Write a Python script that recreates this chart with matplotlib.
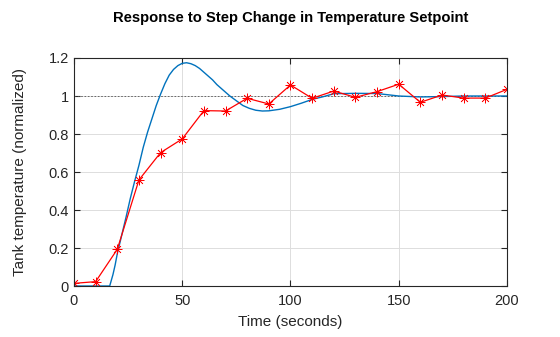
import matplotlib.pyplot as plt

plt.rcParams['font.family'] = ['Liberation Sans', 'DejaVu Sans']

# model response (blue curve)
model_t = [0, 16.5, 18, 19, 20, 22, 24, 26, 28, 30, 32, 34, 36, 38, 40, 42, 44, 46, 48,
           50, 52, 54, 56, 58, 60, 62, 64, 66, 68, 70, 72, 75, 78, 81, 84, 87, 90,
           95, 100, 105, 110, 115, 120, 130, 140, 150, 160, 170, 180, 190, 200]
model_y = [0, 0, 0.06, 0.11, 0.17, 0.265, 0.36, 0.46, 0.55, 0.635, 0.73, 0.81, 0.88,
           0.95, 1.01, 1.065, 1.11, 1.14, 1.16, 1.172, 1.175, 1.17, 1.16, 1.145, 1.125,
           1.105, 1.085, 1.06, 1.04, 1.02, 1.0, 0.975, 0.95, 0.935, 0.925, 0.921,
           0.922, 0.93, 0.944, 0.962, 0.982, 0.996, 1.012, 1.014, 1.013, 1.0, 0.995,
           0.997, 1.0, 1.0, 1.0]

# measured temperature (red asterisks)
meas_t = list(range(0, 201, 10))
meas_y = [0.014, 0.023, 0.193, 0.558, 0.702, 0.774, 0.923, 0.921, 0.988, 0.958,
          1.058, 0.988, 1.026, 0.993, 1.023, 1.062, 0.967, 1.005, 0.989, 0.989, 1.035]

setpoint = 1.0
dark = '#262626'

fig = plt.figure(figsize=(5.6, 3.37), dpi=100)
ax = fig.add_axes([0.1321, 0.1513, 0.7732, 0.6766])

ax.axhline(setpoint, color='#555555', linestyle='--', linewidth=0.6, dashes=(2, 2))
ax.plot(model_t, model_y, color='#0072BD', linewidth=1.0)
ax.plot(meas_t, meas_y, color='red', marker=(8, 2, 0), markersize=7, linewidth=0.9,
        markeredgewidth=0.5)

ax.set_xlim(0, 200)
ax.set_ylim(0, 1.2)
ax.set_xticks([0, 50, 100, 150, 200])
ax.set_yticks([0, 0.2, 0.4, 0.6, 0.8, 1.0, 1.2])
ax.set_yticklabels(['0', '0.2', '0.4', '0.6', '0.8', '1', '1.2'])
ax.grid(True, color='#dddddd', linewidth=0.7)
ax.set_axisbelow(True)
ax.tick_params(direction='in', top=True, right=True, length=4, labelsize=10.5,
               colors=dark)
ax.tick_params(axis='x', pad=6)
for s in ax.spines.values():
    s.set_linewidth(0.8)
    s.set_color(dark)

ax.set_xlabel('Time (seconds)', fontsize=11, color=dark, labelpad=5)
ax.set_ylabel('Tank temperature (normalized)', fontsize=11, labelpad=16, color=dark)
ax.set_title('Response to Step Change in Temperature Setpoint', fontsize=10.6,
             fontweight='bold', pad=26, color='black')

fig.savefig('out.png', dpi=100)
